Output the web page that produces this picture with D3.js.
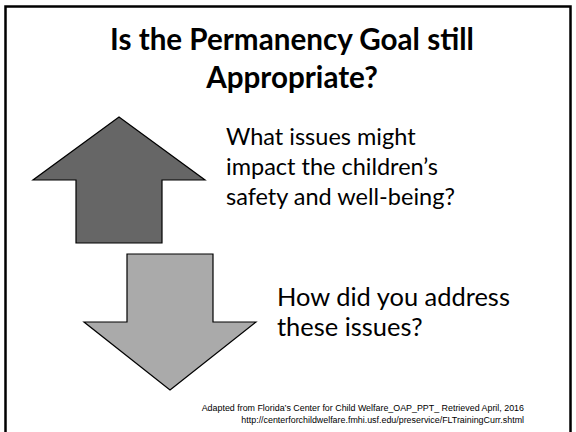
<!DOCTYPE html>
<html>
<head>
<meta charset="utf-8">
<script src="https://cdn.jsdelivr.net/npm/d3@7"></script>
<style>
  body { margin: 0; background: #fff; }
  svg { display: block; }
</style>
</head>
<body>
<svg width="576" height="432"></svg>
<script>
var titleLines = ["Is the Permanency Goal still", "Appropriate?"];
var upperLines = ["What issues might", "impact the children\u2019s", "safety and well-being?"];
var lowerLines = ["How did you address", "these issues?"];
var sourceLines = ["Adapted from Florida\u2019s Center for Child Welfare_OAP_PPT_ Retrieved April, 2016",
                   "http://centerforchildwelfare.fmhi.usf.edu/preservice/FLTrainingCurr.shtml"];

// arrow outline in unit coords (x: -1..1 across the wings, y: 0 tip .. 1 shaft end)
var arrowShape = [[0, 0], [1, 0.5], [0.5, 0.5], [0.5, 1], [-0.5, 1], [-0.5, 0.5], [-1, 0.5]];

var svg = d3.select("svg");

svg.append("rect")
  .attr("x", 5.5).attr("y", 6.5)
  .attr("width", 565).attr("height", 430)
  .attr("fill", "none")
  .attr("stroke", "#000")
  .attr("stroke-width", 2.5);

// one font size per block, taken from the line whose width we measured
function textBlock(cls, lines, opts) {
  var sel = svg.selectAll("text." + cls)
    .data(lines)
    .enter().append("text")
    .attr("class", cls)
    .attr("x", opts.x)
    .attr("y", function(d, i) { return opts.y + i * opts.step; })
    .attr("text-anchor", opts.anchor || "start")
    .attr("font-family", opts.font)
    .attr("font-weight", opts.weight || "normal")
    .attr("font-size", 20)
    .attr("fill", "#000")
    .text(function(d) { return d; });
  var w = sel.nodes()[opts.ref].getComputedTextLength();
  sel.attr("font-size", (20 * opts.width / w).toFixed(2));
}

function drawArrow(cx, tipY, halfW, endY, fill) {
  var x = d3.scaleLinear().domain([-1, 1]).range([cx - halfW, cx + halfW]);
  var y = d3.scaleLinear().domain([0, 1]).range([tipY, endY]);
  var line = d3.line()
    .x(function(d) { return x(d[0]); })
    .y(function(d) { return y(d[1]); })
    .curve(d3.curveLinearClosed);
  svg.append("path")
    .datum(arrowShape)
    .attr("d", line)
    .attr("fill", fill)
    .attr("stroke", "#000")
    .attr("stroke-width", 1.2)
    .attr("stroke-linejoin", "miter");
}

// up arrow (tip at top), down arrow (tip at bottom)
drawArrow(119, 117, 86, 243, "#666666");
drawArrow(170, 390, 86, 254, "#aaaaaa");

var sans = "Lato, 'Open Sans', sans-serif";
textBlock("title", titleLines, {x: 292, y: 50, step: 38, anchor: "middle", font: sans, weight: "bold", ref: 0, width: 364});
textBlock("upper", upperLines, {x: 226, y: 145, step: 30, font: sans, ref: 2, width: 229});
textBlock("lower", lowerLines, {x: 277, y: 306, step: 29.5, font: sans, ref: 0, width: 233});
textBlock("source", sourceLines, {x: 524, y: 411, step: 12, anchor: "end", font: "'Liberation Sans', Arial, sans-serif", ref: 0, width: 323});
</script>
</body>
</html>
